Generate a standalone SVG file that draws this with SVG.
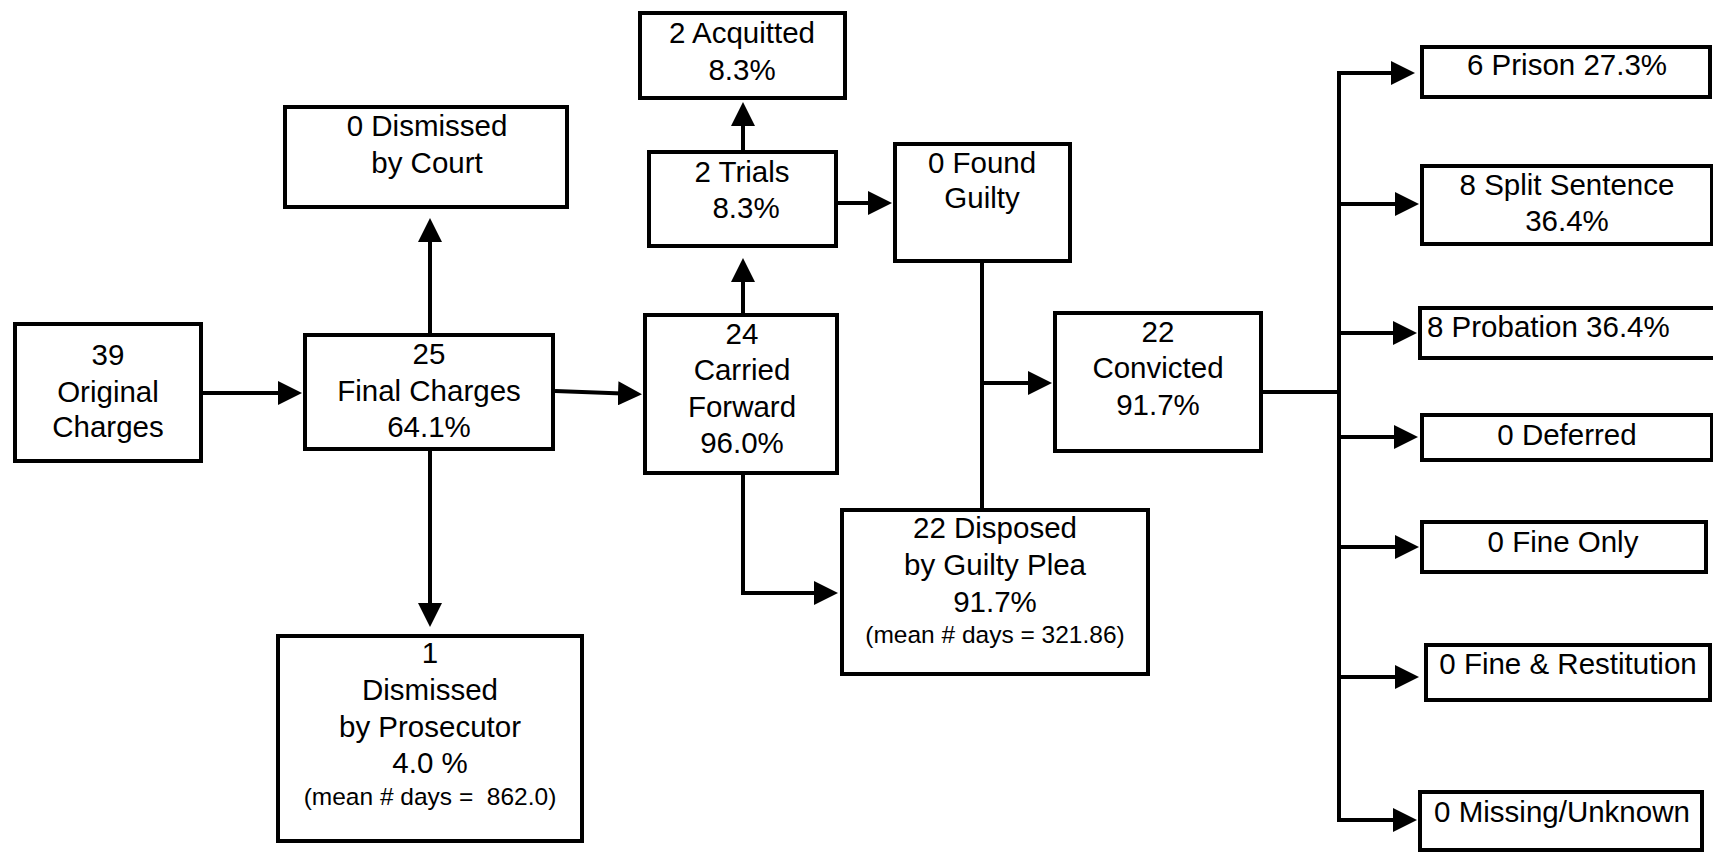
<svg xmlns="http://www.w3.org/2000/svg" width="1713" height="853" viewBox="0 0 1713 853">
<style>
.box{fill:#fff;stroke:#000;stroke-width:4}
.t{font-family:"Liberation Sans",Arial,sans-serif;font-size:29.5px;fill:#000;text-anchor:middle}
.s{font-size:24.5px}
.c{fill:none;stroke:#000;stroke-width:4}
</style>
<defs>
<marker id="ah" markerUnits="userSpaceOnUse" markerWidth="24" markerHeight="24" refX="18" refY="12" orient="auto">
<path d="M0,0 L24,12 L0,24 z" fill="#000"/>
</marker>
</defs>
<rect width="1713" height="853" fill="#fff"/>
<g id="connectors">
<path class="c" d="M203,393 H296" marker-end="url(#ah)"/>
<path class="c" d="M430,333 V224" marker-end="url(#ah)"/>
<path class="c" d="M430,451 V621" marker-end="url(#ah)"/>
<path class="c" d="M555,391 L636,394" marker-end="url(#ah)"/>
<path class="c" d="M743,313 V264" marker-end="url(#ah)"/>
<path class="c" d="M743,150 V108" marker-end="url(#ah)"/>
<path class="c" d="M838,203 H886" marker-end="url(#ah)"/>
<path class="c" d="M982,263 V508"/>
<path class="c" d="M982,383 H1046" marker-end="url(#ah)"/>
<path class="c" d="M743,475 V593 H832" marker-end="url(#ah)"/>
<path class="c" d="M1263,392 H1339"/>
<path class="c" d="M1339,71 V822"/>
<path class="c" d="M1337,73 H1409" marker-end="url(#ah)"/>
<path class="c" d="M1339,204 H1413" marker-end="url(#ah)"/>
<path class="c" d="M1339,333 H1411" marker-end="url(#ah)"/>
<path class="c" d="M1339,437 H1412" marker-end="url(#ah)"/>
<path class="c" d="M1339,547 H1413" marker-end="url(#ah)"/>
<path class="c" d="M1339,677 H1413" marker-end="url(#ah)"/>
<path class="c" d="M1337,820 H1411" marker-end="url(#ah)"/>
</g>
<g id="original">
<rect class="box" x="15" y="324" width="186" height="137"/>
<text class="t" x="108" y="365">39</text>
<text class="t" x="108" y="402">Original</text>
<text class="t" x="108" y="437">Charges</text>
</g>
<g id="final">
<rect class="box" x="305" y="335" width="248" height="114"/>
<text class="t" x="429" y="364">25</text>
<text class="t" x="429" y="401">Final Charges</text>
<text class="t" x="429" y="437">64.1%</text>
</g>
<g id="court">
<rect class="box" x="285" y="107" width="282" height="100"/>
<text class="t" x="427" y="136">0 Dismissed</text>
<text class="t" x="427" y="173">by Court</text>
</g>
<g id="prosecutor">
<rect class="box" x="278" y="636" width="304" height="205"/>
<text class="t" x="430" y="663">1</text>
<text class="t" x="430" y="700">Dismissed</text>
<text class="t" x="430" y="737">by Prosecutor</text>
<text class="t" x="430" y="773">4.0 %</text>
<text class="t s" x="430" y="805" xml:space="preserve">(mean # days =  862.0)</text>
</g>
<g id="carried">
<rect class="box" x="645" y="315" width="192" height="158"/>
<text class="t" x="742" y="344">24</text>
<text class="t" x="742" y="380">Carried</text>
<text class="t" x="742" y="417">Forward</text>
<text class="t" x="742" y="453">96.0%</text>
</g>
<g id="trials">
<rect class="box" x="649" y="152" width="187" height="94"/>
<text class="t" x="742" y="182">2 Trials</text>
<text class="t" x="746" y="218">8.3%</text>
</g>
<g id="acquitted">
<rect class="box" x="640" y="13" width="205" height="85"/>
<text class="t" x="742" y="43">2 Acquitted</text>
<text class="t" x="742" y="80">8.3%</text>
</g>
<g id="found">
<rect class="box" x="895" y="144" width="175" height="117"/>
<text class="t" x="982" y="173">0 Found</text>
<text class="t" x="982" y="208">Guilty</text>
</g>
<g id="convicted">
<rect class="box" x="1055" y="313" width="206" height="138"/>
<text class="t" x="1158" y="342">22</text>
<text class="t" x="1158" y="378">Convicted</text>
<text class="t" x="1158" y="415">91.7%</text>
</g>
<g id="plea">
<rect class="box" x="842" y="510" width="306" height="164"/>
<text class="t" x="995" y="538">22 Disposed</text>
<text class="t" x="995" y="575">by Guilty Plea</text>
<text class="t" x="995" y="612">91.7%</text>
<text class="t s" x="995" y="643">(mean # days = 321.86)</text>
</g>
<g id="prison">
<rect class="box" x="1422" y="47" width="288" height="50"/>
<text class="t" x="1567" y="75">6 Prison 27.3%</text>
</g>
<g id="split">
<rect class="box" x="1422" y="166" width="290" height="78"/>
<text class="t" x="1567" y="195">8 Split Sentence</text>
<text class="t" x="1567" y="231">36.4%</text>
</g>
<g id="probation">
<rect class="box" x="1420" y="308" width="300" height="50"/>
<text class="t" x="1427" y="337" style="text-anchor:start">8 Probation 36.4%</text>
</g>
<g id="deferred">
<rect class="box" x="1422" y="415" width="290" height="45"/>
<text class="t" x="1567" y="445">0 Deferred</text>
</g>
<g id="fineonly">
<rect class="box" x="1422" y="522" width="284" height="50"/>
<text class="t" x="1563" y="552">0 Fine Only</text>
</g>
<g id="finerest">
<rect class="box" x="1426" y="645" width="284" height="55"/>
<text class="t" x="1568" y="674">0 Fine &amp; Restitution</text>
</g>
<g id="missing">
<rect class="box" x="1420" y="792" width="282" height="58"/>
<text class="t" x="1562" y="822">0 Missing/Unknown</text>
</g>
</svg>
